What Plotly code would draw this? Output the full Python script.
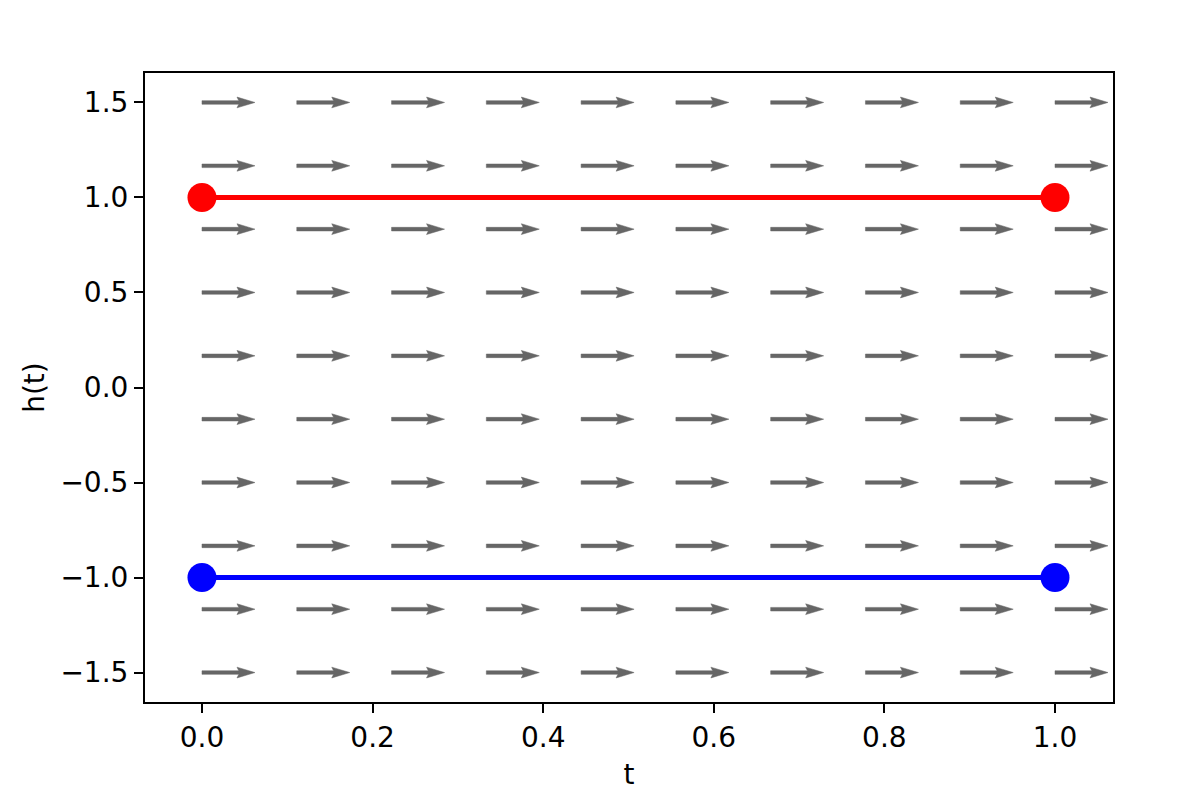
import numpy as np
import plotly.graph_objects as go

# Grid of the direction field
t_grid = [0.0, 1/9, 2/9, 3/9, 4/9, 5/9, 6/9, 7/9, 8/9, 1.0]
h_grid = [-1.5, -7/6, -5/6, -0.5, -1/6, 1/6, 0.5, 5/6, 7/6, 1.5]
U = 1.0  # dt component
V = 0.0  # dh component (field is flat)

# Solution lines
t_line = [0.0, 1.0]
h_upper = [1.0, 1.0]
h_lower = [-1.0, -1.0]

X_RANGE = [-0.0668, 1.068]
Y_RANGE = [-1.655, 1.655]
ML, MR, MT, MB = 137, 83, 65, 97
W, H = 1188, 791
pxx = (W - ML - MR) / (X_RANGE[1] - X_RANGE[0])
pxy = (H - MT - MB) / (Y_RANGE[1] - Y_RANGE[0])

L = 53.0   # arrow length in px
w = 3.6    # shaft width in px
local = [(0, -w/2), (L - 4.5*w, -w/2), (L - 5*w, -1.5*w), (L, 0),
         (L - 5*w, 1.5*w), (L - 4.5*w, w/2), (0, w/2), (0, -w/2)]

ax_x, ax_y = [], []
for t0 in t_grid:
    for h0 in h_grid:
        ang = np.arctan2(V * pxy, U * pxx)
        c, s = np.cos(ang), np.sin(ang)
        for (a, b) in local:
            ax_x.append(t0 + (a * c - b * s) / pxx)
            ax_y.append(h0 + (a * s + b * c) / pxy)
        ax_x.append(None)
        ax_y.append(None)

fig = go.Figure()
fig.add_trace(go.Scatter(x=ax_x, y=ax_y, mode="lines", fill="toself",
                         fillcolor="#666666", line=dict(width=0.5, color="#666666"),
                         hoverinfo="skip", showlegend=False))
fig.add_trace(go.Scatter(x=t_line, y=h_upper, mode="lines+markers",
                         line=dict(color="red", width=5),
                         marker=dict(color="red", size=29), showlegend=False))
fig.add_trace(go.Scatter(x=t_line, y=h_lower, mode="lines+markers",
                         line=dict(color="blue", width=5),
                         marker=dict(color="blue", size=29), showlegend=False))

axis_common = dict(showgrid=False, zeroline=False, showline=True, linecolor="black",
                   linewidth=2, mirror=True, ticks="outside", ticklen=9, tickwidth=2,
                   tickcolor="black", tickfont=dict(family="DejaVu Sans", size=28, color="black"),
                   title_font=dict(family="DejaVu Sans", size=28, color="black"))
fig.update_xaxes(range=X_RANGE, tickvals=[0, 0.2, 0.4, 0.6, 0.8, 1.0],
                 ticktext=["0.0", "0.2", "0.4", "0.6", "0.8", "1.0"],
                 title_text="t", title_standoff=12, **axis_common)
fig.update_yaxes(range=Y_RANGE, tickvals=[-1.5, -1.0, -0.5, 0.0, 0.5, 1.0, 1.5],
                 ticktext=["\u22121.5", "\u22121.0", "\u22120.5", "0.0", "0.5", "1.0", "1.5"],
                 title_text="h(t)", title_standoff=8, **axis_common)
fig.update_layout(width=W, height=H, margin=dict(l=ML, r=MR, t=MT, b=MB),
                  plot_bgcolor="white", paper_bgcolor="white",
                  font=dict(family="DejaVu Sans", color="black"))
fig.write_html("out.html")
